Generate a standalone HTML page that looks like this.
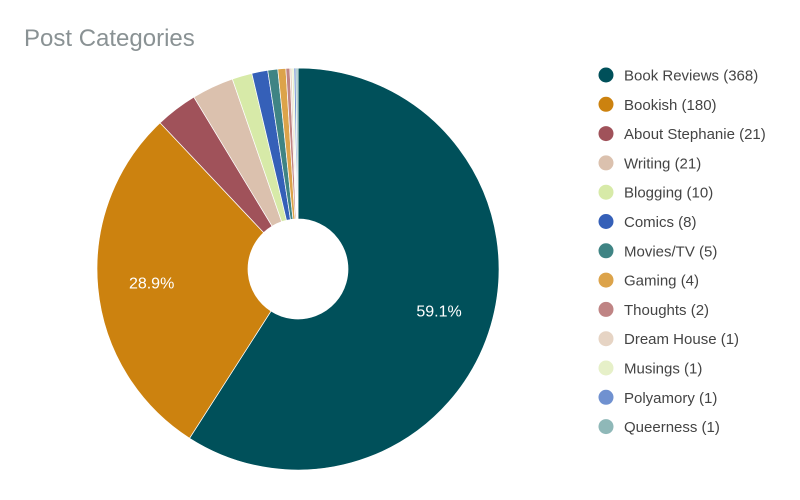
<!DOCTYPE html>
<html><head><meta charset="utf-8"><style>
body{margin:0;background:#fff;width:800px;height:495px;overflow:hidden;font-family:"Liberation Sans",sans-serif}
</style></head><body>
<svg width="800" height="495">
<text x="24" y="46" font-size="24" fill="#8a9294">Post Categories</text>
<g id="pie"></g>
<g id="legend"></g>
</svg>
<script>
const categories=["Book Reviews","Bookish","About Stephanie","Writing","Blogging","Comics","Movies/TV","Gaming","Thoughts","Dream House","Musings","Polyamory","Queerness"];
const values=[368,180,21,21,10,8,5,4,2,1,1,1,1];
const colors=["#00505a","#cc820f","#a0525a","#dbc1ae","#d7eaa8","#3560b8","#3f8484","#dca34a","#bf8484","#e6d4c4","#e6f0c8","#7091d0","#8fb8b8"];
const NS="http://www.w3.org/2000/svg";
const cx=298,cy=269,R=201,r0=50;
const total=values.reduce((a,b)=>a+b,0);
const pie=document.getElementById('pie'),leg=document.getElementById('legend');
function pt(a,rad){return [cx+rad*Math.sin(a),cy-rad*Math.cos(a)];}
let a=0;
values.forEach((v,i)=>{
  const s=a,e=a+v/total*2*Math.PI;a=e;
  const large=(e-s)>Math.PI?1:0;
  const [x1,y1]=pt(s,R),[x2,y2]=pt(e,R),[x3,y3]=pt(e,r0),[x4,y4]=pt(s,r0);
  const p=document.createElementNS(NS,'path');
  p.setAttribute('d',`M${x1},${y1}A${R},${R} 0 ${large} 1 ${x2},${y2}L${x3},${y3}A${r0},${r0} 0 ${large} 0 ${x4},${y4}Z`);
  p.setAttribute('fill',colors[i]);p.setAttribute('stroke','#fff');p.setAttribute('stroke-width','0.7');
  
  
  pie.appendChild(p);
  const frac=v/total;
  if(frac>0.05){
    const [lx,ly]=pt((s+e)/2,147);
    const t=document.createElementNS(NS,'text');
    t.setAttribute('x',lx);t.setAttribute('y',ly+6);t.setAttribute('text-anchor','middle');
    t.setAttribute('font-size','16');t.setAttribute('fill','#fff');
    t.textContent=(frac*100).toFixed(1)+'%';
    
    
    pie.appendChild(t);
  }
  const y=75+i*29.3;
  const g=document.createElementNS(NS,'g');
  
  
  const c=document.createElementNS(NS,'circle');
  c.setAttribute('cx',606);c.setAttribute('cy',y);c.setAttribute('r',7.5);c.setAttribute('fill',colors[i]);
  const t=document.createElementNS(NS,'text');
  t.setAttribute('x',624);t.setAttribute('y',y+5.5);t.setAttribute('font-size','15');t.setAttribute('fill','#444');
  t.textContent=categories[i]+' ('+v+')';
  g.appendChild(c);g.appendChild(t);leg.appendChild(g);
});
</script>
</body></html>
